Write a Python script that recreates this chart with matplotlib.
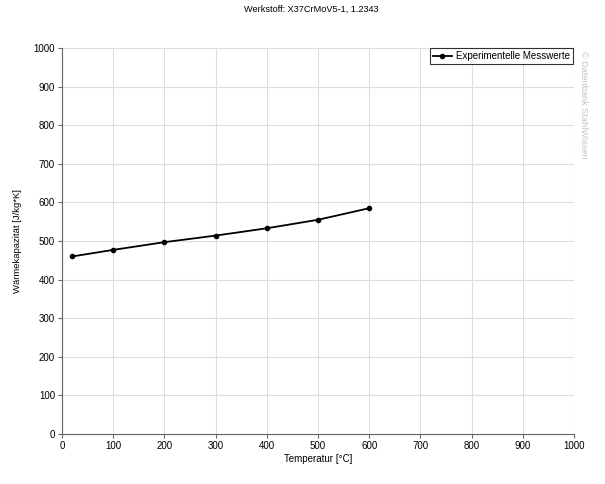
import matplotlib
matplotlib.use("Agg")
import matplotlib.pyplot as plt

# Werkstoff X37CrMoV5-1, specific heat capacity
temperatur = [20, 100, 200, 300, 400, 500, 600]
waermekapazitaet = [460, 477, 497, 514, 533, 555, 585]

plt.rcParams['font.family'] = ['Liberation Sans', 'DejaVu Sans']

fig = plt.figure(figsize=(6.05, 4.84), dpi=100)
ax = fig.add_axes([0.1025, 0.1033, 0.8463, 0.7975])

ax.plot(temperatur, waermekapazitaet, color='black', lw=1.3, marker='o', ms=3,
        label='Experimentelle Messwerte')

ax.set_xlim(0, 1000)
ax.set_ylim(0, 1000)
ax.set_xticks(range(0, 1001, 100))
ax.set_yticks(range(0, 1001, 100))
ax.grid(True, color='#dddddd', lw=0.8)
ax.set_axisbelow(True)
for s in ['top', 'right']:
    ax.spines[s].set_visible(False)
for s in ['left', 'bottom']:
    ax.spines[s].set_color('#666666')
ax.tick_params(labelsize=7, length=3, color='#666666', pad=2)

ax.set_xlabel('Temperatur [°C]', fontsize=7, labelpad=2)
ax.set_ylabel('Wärmekapazität [J/kg*K]', fontsize=6.8, labelpad=8)
fig.text(0.515, 0.99, 'Werkstoff: X37CrMoV5-1, 1.2343', ha='center', va='top', fontsize=6.6)

leg = ax.legend(loc='upper right', fontsize=7, frameon=True, fancybox=False,
                borderpad=0.3, handlelength=2, handletextpad=0.4,
                bbox_to_anchor=(0.998, 1.0), borderaxespad=0.0)
leg.get_frame().set_edgecolor('black')
leg.get_frame().set_linewidth(0.8)

fig.text(0.957, 0.895, '© Datenbank StahlWissen', rotation=-90, ha='left', va='top',
         fontsize=6.6, color='#c4c4c4')

fig.savefig('out.png', dpi=100)
